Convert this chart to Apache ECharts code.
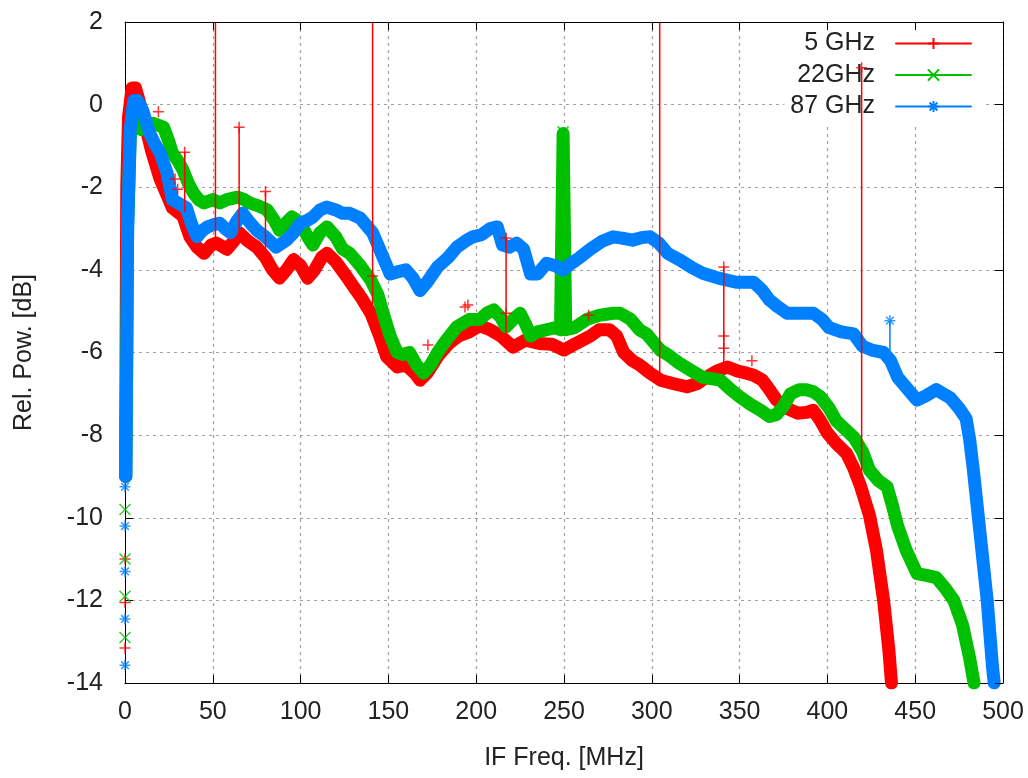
<!DOCTYPE html>
<html lang="en">
<head>
    <meta charset="UTF-8">
    <title>IF response</title>
</head>
<body style="margin: 0">
<div id="container" style="height: 778px; width: 1028px;"></div>
<script type="text/javascript" src="https://cdn.jsdelivr.net/npm/echarts@6.0.0/dist/echarts.min.js"></script>
<script type="text/javascript">
    // axis ticks
    const xTicks = [0, 50, 100, 150, 200, 250, 300, 350, 400, 450, 500];
    const yTicks = [2, 0, -2, -4, -6, -8, -10, -12, -14];
    const names = ['5 GHz', '22GHz', '87 GHz'];

    // band traces [freq MHz, rel. power dB]
    const red5 = [[0.3, -9], [1, -2], [2, -0.3], [4, 0.4], [6, 0.4], [8, 0.1], [11, -0.4], [15, -1.1], [20, -1.8],
        [24, -2.2], [27, -2.5], [33, -2.7], [37, -3.2], [41, -3.45], [45, -3.6], [49, -3.4], [52, -3.35], [58, -3.5],
        [62, -3.3], [65, -3.1], [70, -3.3], [75, -3.45], [80, -3.7], [84, -4.0], [88, -4.2], [92, -4.0], [96, -3.75],
        [100, -3.9], [104, -4.2], [108, -4.0], [112, -3.7], [115, -3.6], [120, -3.8], [126, -4.15], [130, -4.4],
        [135, -4.7], [140, -5.05], [145, -5.6], [149, -6.1], [155, -6.35], [160, -6.3], [165, -6.5], [168, -6.67],
        [172, -6.5], [178, -6.1], [184, -5.8], [190, -5.6], [196, -5.5], [202, -5.35], [208, -5.45], [214, -5.6],
        [221, -5.87], [228, -5.7], [236, -5.78], [243, -5.8], [250, -5.94], [256, -5.8], [265, -5.6], [270, -5.45],
        [276, -5.45], [280, -5.6], [284, -6.0], [289, -6.2], [293, -6.3], [299, -6.5], [305, -6.67], [312, -6.75],
        [320, -6.83], [326, -6.75], [331, -6.6], [337, -6.45], [343, -6.35], [349, -6.45], [354, -6.5], [358, -6.55],
        [363, -6.67], [367, -6.9], [371, -7.15], [377, -7.35], [383, -7.47], [388, -7.45], [392, -7.4], [396, -7.65],
        [400, -7.95], [405, -8.2], [411, -8.45], [415, -8.8], [419, -9.25], [424, -9.95], [428, -10.8], [432, -12.0],
        [435, -13.2], [436.5, -14]];

    const green22 = [[0.5, -9], [1.5, -3], [3, -0.8], [5, -0.2], [7, -0.3], [9, -0.6], [12, -0.5], [16, -0.45],
        [22, -0.55], [25, -0.9], [27, -1.17], [30, -1.35], [33, -1.58], [36, -1.9], [39, -2.14], [42, -2.3],
        [45, -2.38], [50, -2.3], [54, -2.38], [58, -2.3], [64, -2.24], [68, -2.3], [71, -2.38], [76, -2.45],
        [81, -2.55], [85, -2.8], [88, -3.04], [92, -2.85], [95, -2.72], [98, -2.8], [101, -2.96], [104, -3.2],
        [107, -3.4], [111, -3.1], [115, -2.96], [120, -3.2], [124, -3.5], [128, -3.6], [134, -3.9], [140, -4.25],
        [144, -4.6], [147, -5.05], [151, -5.6], [155, -6.0], [158, -6.05], [162, -6.0], [166, -6.3], [170, -6.5],
        [174, -6.3], [178, -6.0], [183, -5.7], [189, -5.38], [196, -5.2], [202, -5.2], [206, -5.05], [210, -4.97],
        [214, -5.15], [217, -5.38], [221, -5.2], [225, -5.05], [228, -5.3], [231, -5.6], [235, -5.5], [240, -5.45],
        [245, -5.4], [248, -5.45], [249.5, -0.7], [251, -5.45], [256, -5.4], [263, -5.2], [270, -5.1], [278, -5.05],
        [282, -5.05], [288, -5.2], [293, -5.45], [297, -5.55], [305, -5.95], [309, -6.05], [316, -6.27], [323, -6.45],
        [329, -6.6], [339, -6.67], [345, -6.9], [350, -7.07], [356, -7.25], [362, -7.4], [367, -7.55], [371, -7.5],
        [375, -7.3], [379, -7.0], [384, -6.9], [388, -6.9], [392, -6.95], [396, -7.07], [401, -7.35], [405, -7.65],
        [410, -7.85], [415, -8.05], [420, -8.4], [424, -8.85], [429, -9.1], [434, -9.25], [437, -9.7], [440, -10.2],
        [445, -10.8], [451, -11.35], [457, -11.4], [462, -11.45], [467, -11.7], [472, -12.0], [477, -12.6],
        [481, -13.4], [483.5, -14]];

    const blue87 = [[0.5, -9], [1.5, -3], [3, -0.6], [5, 0.1], [7, 0.1], [10, -0.13], [14, -0.69], [17, -0.95],
        [20, -1.17], [24, -1.66], [27, -2.3], [31, -2.4], [35, -2.5], [38, -2.9], [41, -3.2], [44, -3.05], [47, -2.96],
        [51, -2.9], [54, -2.87], [57, -3.0], [60, -3.1], [64, -2.8], [67, -2.63], [71, -2.85], [75, -3.04], [80, -3.2],
        [86, -3.45], [92, -3.28], [96, -3.1], [100, -2.87], [104, -2.8], [107, -2.72], [111, -2.55], [115, -2.48],
        [120, -2.55], [124, -2.63], [128, -2.63], [134, -2.75], [141, -3.1], [146, -3.6], [151, -4.1], [155, -4.05],
        [160, -4.0], [164, -4.2], [168, -4.5], [172, -4.3], [178, -3.93], [184, -3.7], [189, -3.45], [194, -3.3],
        [198, -3.2], [203, -3.15], [208, -3.0], [212, -2.96], [215, -3.4], [219, -3.45], [223, -3.35], [227, -3.5],
        [231, -4.1], [235, -4.1], [240, -3.84], [245, -3.9], [249.5, -4.0], [254, -3.85], [259, -3.7], [265, -3.5],
        [272, -3.3], [278, -3.2], [283, -3.23], [289, -3.28], [294, -3.22], [299, -3.2], [304, -3.35], [309, -3.6],
        [316, -3.76], [323, -3.95], [329, -4.08], [338, -4.2], [348, -4.3], [358, -4.3], [363, -4.5], [367, -4.73],
        [372, -4.9], [377, -5.05], [385, -5.05], [392, -5.05], [397, -5.2], [401, -5.4], [408, -5.5], [415, -5.55],
        [420, -5.85], [426, -5.95], [432, -6.0], [436, -6.2], [440, -6.6], [446, -6.9], [451, -7.15], [456, -7.05],
        [462, -6.9], [466, -7.0], [470, -7.1], [475, -7.35], [479, -7.6], [481, -8.1], [483, -8.8], [487, -10.4],
        [491, -12.0], [494, -13.6], [495, -14]];

    // spikes [freq, from dB, to dB]
    const redSpikes = [[34, -2.6, -1.15], [51.5, -3.4, 2], [65, -3.1, -0.55], [80, -3.6, -2.1], [141, -4.9, 2],
        [217, -5.7, -3.23], [304.5, -6.6, 2], [341, -6.4, -3.93], [419.5, -9.2, 0.89]];
    const blueSpikes = [[435.6, -5.95, -5.23]];

    // isolated markers
    const redMarks = [[19, -0.17], [28.5, -1.8], [30, -2.05], [34, -1.15], [65, -0.55], [80, -2.1], [141, -4.15],
        [172.5, -5.82], [193.6, -4.9], [195.3, -4.85], [217, -3.23], [217, -5.05], [264, -5.1], [341, -3.93],
        [341, -5.6], [341, -5.9], [357, -6.2], [419.5, 0.89], [0, -11.0], [0, -12.05], [0, -13.15]];
    const greenMarks = [[249.5, -0.66], [0, -9.8], [0, -11.0], [0, -11.9], [0, -12.9]];
    const blueMarks = [[435.6, -5.23], [0, -8.65], [0, -9.25], [0, -10.2], [0, -11.3], [0, -12.45], [0, -13.57]];

    const colors = ['#ff0000', '#00c000', '#0080ff'];
    const plusPath = 'path://M5,0L5,10M0,5L10,5';
    const crossPath = 'path://M0,0L10,10M0,10L10,0';
    const starPath = 'path://M0,5L10,5M5,0L5,10M1.5,1.5L8.5,8.5M1.5,8.5L8.5,1.5';
    const symbols = [plusPath, crossPath, starPath];

    function spikeData(list) {
        const out = [];
        list.forEach(function (s) {
            out.push([s[0], s[1]], [s[0], s[2]], [s[0], null]);
        });
        return out;
    }

    const dom = document.getElementById('container');
    const myChart = echarts.init(dom, null, {renderer: 'canvas'});
    const font = '"Liberation Sans", Arial, sans-serif';
    const gridLine = {show: true, lineStyle: {color: '#a0a0a0', type: [3, 4], width: 1.2}};
    const frame = {show: true, onZero: false, lineStyle: {color: '#000', width: 1}};
    const ticks = {show: true, inside: true, length: 8, lineStyle: {color: '#000'}};
    const txt = {fontSize: 25, color: '#222', fontFamily: font};

    const bands = [red5, green22, blue87];
    const marks = [redMarks, greenMarks, blueMarks];
    const series = [];
    bands.forEach(function (d, i) {
        series.push({
            name: names[i], type: 'line', data: d, symbol: symbols[i], showSymbol: false,
            lineStyle: {color: colors[i], width: 13, join: 'round', cap: 'round'},
            itemStyle: {color: colors[i], borderColor: colors[i], borderWidth: 1.5},
            silent: true, animation: false, z: 2 + i
        });
    });
    series.push({
        name: 'redSpikes', type: 'line', data: spikeData(redSpikes), symbol: 'none', connectNulls: false,
        lineStyle: {color: colors[0], width: 1.5}, silent: true, animation: false, z: 6
    });
    series.push({
        name: 'blueSpikes', type: 'line', data: spikeData(blueSpikes), symbol: 'none', connectNulls: false,
        lineStyle: {color: colors[2], width: 1.5}, silent: true, animation: false, z: 6
    });
    marks.forEach(function (d, i) {
        series.push({
            name: names[i] + ' pts', type: 'scatter', data: d, symbol: symbols[i], symbolSize: 11,
            itemStyle: {color: 'transparent', borderColor: colors[i], borderWidth: 1.5},
            silent: true, animation: false, z: 7
        });
    });

    const option = {
        backgroundColor: '#ffffff',
        animation: false,
        grid: {left: 125, right: 25, top: 22, bottom: 95},
        legend: {
            data: names,
            z: 1,
            orient: 'vertical',
            align: 'right',
            right: 44,
            top: 22,
            padding: [9, 12, 8, 6],
            backgroundColor: '#ffffff',
            itemWidth: 75,
            itemHeight: 14,
            itemGap: 6.5,
            lineStyle: {width: 2},
            textStyle: {fontSize: 25, color: '#222', fontFamily: font, padding: [0, 16, 0, 0]}
        },
        xAxis: [
            {
                type: 'value', min: xTicks[0], max: xTicks[xTicks.length - 1], interval: 50,
                position: 'bottom',
                name: 'IF Freq. [MHz]', nameLocation: 'middle', nameGap: 63,
                nameTextStyle: txt,
                axisLine: frame,
                axisTick: ticks,
                axisLabel: Object.assign({margin: 17}, txt),
                splitLine: gridLine
            },
            {
                type: 'value', min: xTicks[0], max: xTicks[xTicks.length - 1], interval: 50,
                position: 'top', z: 8,
                axisLine: frame,
                axisTick: ticks,
                axisLabel: {show: false},
                splitLine: {show: false}
            }
        ],
        yAxis: [
            {
                type: 'value', min: yTicks[yTicks.length - 1], max: yTicks[0], interval: 2,
                position: 'left',
                name: 'Rel. Pow. [dB]', nameLocation: 'middle', nameGap: 88,
                nameTextStyle: txt,
                axisLine: frame,
                axisTick: ticks,
                axisLabel: Object.assign({margin: 22}, txt),
                splitLine: gridLine
            },
            {
                type: 'value', min: yTicks[yTicks.length - 1], max: yTicks[0], interval: 2,
                position: 'right', z: 8,
                axisLine: frame,
                axisTick: ticks,
                axisLabel: {show: false},
                splitLine: {show: false}
            }
        ],
        series: series
    };
    myChart.setOption(option);
</script>
</body>
</html>
